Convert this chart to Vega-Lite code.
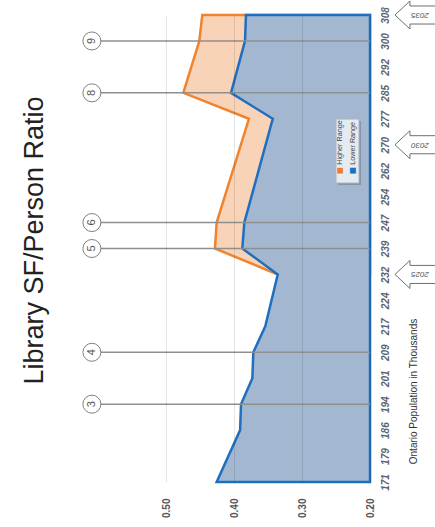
{
  "$schema": "https://vega.github.io/schema/vega-lite/v6.json",
  "width": 306,
  "height": 467,
  "autosize": {"type": "none"},
  "padding": {"left": 64, "top": 15, "right": 65, "bottom": 45},
  "background": "white",
  "title": {"text": "Library SF/Person Ratio", "orient": "left", "anchor": "middle", "fontSize": 27, "fontWeight": "normal", "font": "Liberation Sans", "color": "#222222", "offset": 15, "dx": 8},
  "config": {"view": {"stroke": null}, "font": "Liberation Sans"},
  "datasets": {
    "higher": [
      {"pop": 232, "ratio": 0.3357},
      {"pop": 239, "ratio": 0.428},
      {"pop": 247, "ratio": 0.4255},
      {"pop": 277, "ratio": 0.378},
      {"pop": 285, "ratio": 0.4745},
      {"pop": 300, "ratio": 0.451},
      {"pop": 308, "ratio": 0.4466}
    ],
    "lower": [
      {"pop": 171, "ratio": 0.4255},
      {"pop": 186, "ratio": 0.391},
      {"pop": 194, "ratio": 0.3897},
      {"pop": 201, "ratio": 0.373},
      {"pop": 209, "ratio": 0.3716},
      {"pop": 217, "ratio": 0.354},
      {"pop": 232, "ratio": 0.3357},
      {"pop": 239, "ratio": 0.3878},
      {"pop": 247, "ratio": 0.3848},
      {"pop": 277, "ratio": 0.343},
      {"pop": 285, "ratio": 0.4044},
      {"pop": 300, "ratio": 0.3838},
      {"pop": 308, "ratio": 0.3824}
    ],
    "notes": [
      {"pop": 194, "label": "3"},
      {"pop": 209, "label": "4"},
      {"pop": 239, "label": "5"},
      {"pop": 247, "label": "6"},
      {"pop": 285, "label": "8"},
      {"pop": 300, "label": "9"}
    ],
    "years": [
      {"pop": 232, "year": "2025"},
      {"pop": 270, "year": "2030"},
      {"pop": 308, "year": "2035"}
    ],
    "legend": [
      {"series": "Higher Range", "ratio": 0.2441, "color": "#ED7D31"},
      {"series": "Lower Range", "ratio": 0.2250, "color": "#1F6FC0"}
    ]
  },
  "encoding": {
    "y": {
      "field": "pop", "type": "ordinal",
      "scale": {"type": "point", "padding": 0, "domain": [308, 300, 292, 285, 277, 270, 262, 254, 247, 239, 232, 224, 217, 209, 201, 194, 186, 179, 171]},
      "axis": {
        "orient": "right", "ticks": false, "domain": false, "grid": false,
        "labelAngle": 270, "labelAlign": "center", "labelBaseline": "middle", "labelPadding": 15,
        "labelFontStyle": "italic", "labelFontWeight": "bold", "labelColor": "#5a6470", "labelFontSize": 10,
        "labelOverlap": false,
        "title": "Ontario Population in Thousands", "titleAngle": 270, "titleFontWeight": "normal",
        "titleFontSize": 10, "titleColor": "#333333", "titleX": 43, "titleY": 376,
        "titleAlign": "center", "titleBaseline": "middle"
      }
    }
  },
  "layer": [
    {
      "data": {"name": "higher"},
      "mark": {"type": "area", "orient": "horizontal", "fill": "#F9D3B7", "stroke": "#F0832E", "strokeWidth": 2.5, "strokeJoin": "miter"},
      "encoding": {
        "x": {"field": "ratio", "type": "quantitative",
          "scale": {"domain": [0.2, 0.65], "reverse": true, "zero": false, "nice": false},
          "axis": {"orient": "bottom", "values": [0.2, 0.3, 0.4, 0.5], "format": ".2f", "grid": true, "ticks": false, "domain": false,
            "labelAngle": 270, "labelAlign": "right", "labelBaseline": "middle", "labelPadding": 16,
            "labelFontWeight": "bold", "labelColor": "#555555", "labelFontSize": 10, "title": null,
            "gridColor": "#000000", "gridOpacity": 0.1, "zindex": 1}},
        "x2": {"datum": 0.2}
      }
    },
    {
      "data": {"name": "lower"},
      "mark": {"type": "area", "orient": "horizontal", "fill": "#A3B8D0", "stroke": "#1F6FC0", "strokeWidth": 2.5, "strokeJoin": "miter"},
      "encoding": {
        "x": {"field": "ratio", "type": "quantitative"},
        "x2": {"datum": 0.2}
      }
    },
    {
      "data": {"name": "notes"},
      "mark": {"type": "rule", "color": "#8F8F8F", "strokeWidth": 1.5},
      "encoding": {"x": {"datum": 0.609}, "x2": {"datum": 0.2}}
    },
    {
      "data": {"name": "notes"},
      "mark": {"type": "point", "shape": "circle", "filled": true, "fill": "white", "stroke": "#7F7F7F", "strokeWidth": 1, "size": 324, "opacity": 1},
      "encoding": {"x": {"datum": 0.609}}
    },
    {
      "data": {"name": "notes"},
      "mark": {"type": "text", "angle": 270, "fontSize": 11, "color": "#555555", "align": "center", "baseline": "middle"},
      "encoding": {"x": {"datum": 0.609}, "text": {"field": "label"}}
    },
    {
      "data": {"name": "years"},
      "mark": {"type": "point", "shape": "M-1,0 L-0.286,-0.667 L-0.286,-0.43 L1,-0.43 L1,0.43 L-0.286,0.43 L-0.286,0.667 Z", "size": 1764, "filled": true, "fill": "white", "stroke": "#6F6F6F", "strokeWidth": 1, "opacity": 1},
      "encoding": {"x": {"datum": 0.1324}}
    },
    {
      "data": {"name": "years"},
      "mark": {"type": "text", "angle": 180, "fontSize": 8, "fontStyle": "italic", "color": "#555555", "align": "center", "baseline": "middle"},
      "encoding": {"x": {"datum": 0.1265}, "text": {"field": "year"}}
    },
    {
      "data": {"values": [{"pop": 270}]},
      "mark": {"type": "point", "shape": "M-0.36,-1 L0.36,-1 L0.36,1 L-0.36,1 Z", "size": 4096, "filled": true, "fill": "#6E7F95", "opacity": 0.6, "strokeWidth": 0, "xOffset": 2, "yOffset": 8.3},
      "encoding": {"x": {"datum": 0.2331}}
    },
    {
      "data": {"values": [{"pop": 270}]},
      "mark": {"type": "point", "shape": "M-0.36,-1 L0.36,-1 L0.36,1 L-0.36,1 Z", "size": 4096, "filled": true, "fill": "#E6EBF2", "stroke": "#A9B3BF", "strokeWidth": 1, "opacity": 1, "yOffset": 6.3},
      "encoding": {"x": {"datum": 0.2331}}
    },
    {
      "data": {"name": "legend"},
      "mark": {"type": "point", "shape": "square", "size": 42, "filled": true, "opacity": 1, "stroke": "white", "strokeWidth": 0.5},
      "encoding": {"x": {"field": "ratio", "type": "quantitative"}, "y": {"datum": 262, "type": "ordinal"}, "fill": {"field": "color", "type": "nominal", "scale": null}}
    },
    {
      "data": {"name": "legend"},
      "mark": {"type": "text", "angle": 270, "fontSize": 7.2, "color": "#444444", "align": "left", "baseline": "middle", "yOffset": -6},
      "encoding": {"x": {"field": "ratio", "type": "quantitative"}, "y": {"datum": 262, "type": "ordinal"}, "text": {"field": "series"}}
    }
  ]
}
